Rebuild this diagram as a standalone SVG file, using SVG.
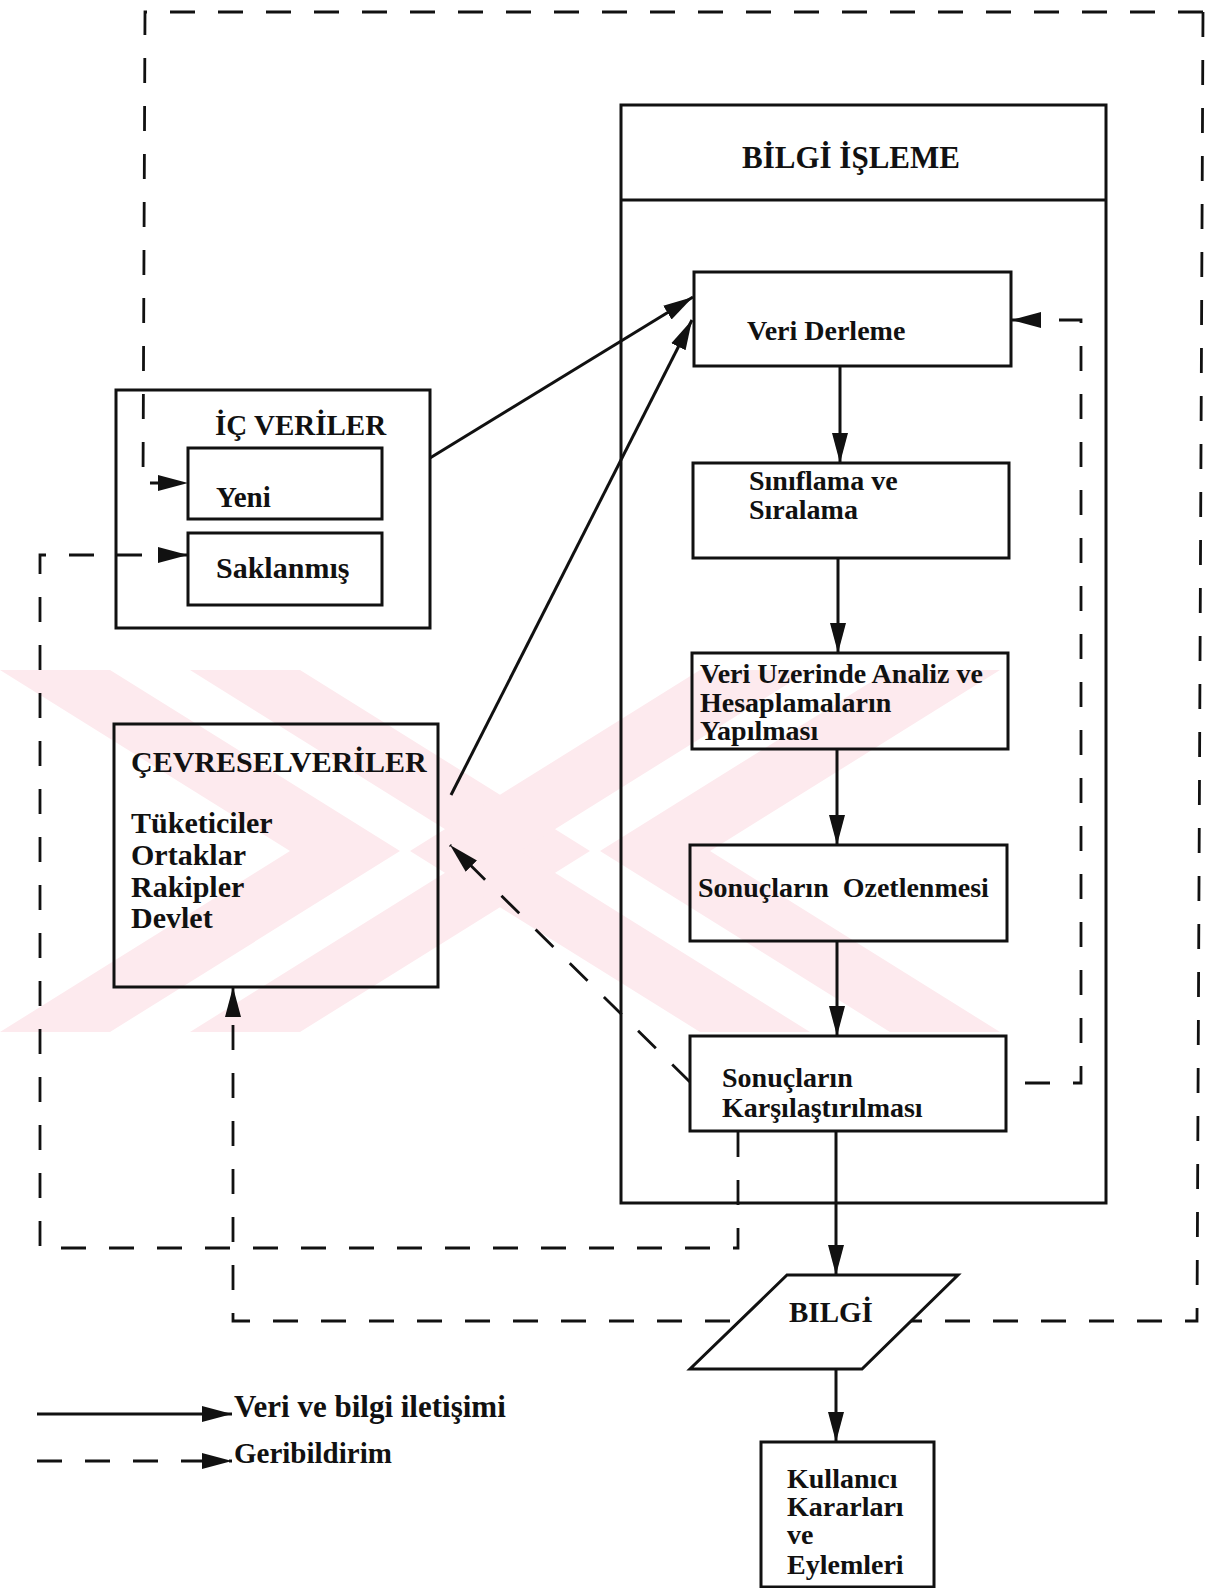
<svg xmlns="http://www.w3.org/2000/svg" width="1222" height="1588" viewBox="0 0 1222 1588">
<style>
.box{fill:none;stroke:#111;stroke-width:3}
.ln{fill:none;stroke:#111;stroke-width:3}
.dl{fill:none;stroke:#111;stroke-width:2.8;stroke-dasharray:25 23}
.t{font-family:"Liberation Serif","Times New Roman",serif;font-weight:bold;font-size:28px;fill:#111}
.wm{fill:#fdeaee}
</style>
<defs>
<marker id="ah" markerUnits="userSpaceOnUse" markerWidth="32" markerHeight="18" refX="30" refY="9" orient="auto">
<path d="M0,1 L30,9 L0,17 z" fill="#111"/>
</marker>
</defs>
<rect x="0" y="0" width="1222" height="1588" fill="#ffffff"/>
<g id="watermark">
<polygon class="wm" points="0,670 110,670 400,851 110,1032 0,1032 290,851"/>
<polygon class="wm" points="190,670 300,670 590,851 300,1032 190,1032 480,851"/>
<polygon class="wm" points="1000,670 890,670 600,851 890,1032 1000,1032 710,851"/>
<polygon class="wm" points="810,670 700,670 410,851 700,1032 810,1032 520,851"/>
</g>
<g id="connectors">
<path class="dl" d="M1203,12 L145,12 L143,483 L188,483" marker-end="url(#ah)"/>
<path class="dl" d="M1203,12 L1197,1321 L233,1321 L233,987" marker-end="url(#ah)"/>
<path class="dl" d="M738,1132 L738,1248 L40,1248 L40,555 L188,555" marker-end="url(#ah)"/>
<path class="dl" d="M1006,1083 L1081,1083 L1081,320 L1011,320" style="stroke-dashoffset:29" marker-end="url(#ah)"/>
<path class="dl" d="M690,1082 L450,845" marker-end="url(#ah)"/>
<path class="ln" d="M430,458 L693,297" marker-end="url(#ah)"/>
<path class="ln" d="M451,795 L692,320" marker-end="url(#ah)"/>
<path class="ln" d="M840,367 L840,463" marker-end="url(#ah)"/>
<path class="ln" d="M838,558 L838,653" marker-end="url(#ah)"/>
<path class="ln" d="M837,749 L837,845" marker-end="url(#ah)"/>
<path class="ln" d="M837,941 L837,1036" marker-end="url(#ah)"/>
<path class="ln" d="M836,1131 L836,1275" marker-end="url(#ah)"/>
<path class="ln" d="M836,1369 L836,1442" marker-end="url(#ah)"/>
</g>
<g id="bilgi-isleme">
<rect class="box" x="621" y="105" width="485" height="1098"/>
<line class="box" x1="621" y1="200" x2="1106" y2="200"/>
<text class="t" x="742" y="168" style="font-size:31px">BİLGİ İŞLEME</text>
</g>
<g id="veri-derleme">
<rect class="box" x="694" y="272" width="317" height="94"/>
<text class="t" x="747" y="340">Veri Derleme</text>
</g>
<g id="siniflama">
<rect class="box" x="693" y="463" width="316" height="95"/>
<text class="t" x="749" y="490">Sınıflama ve</text>
<text class="t" x="749" y="519">Sıralama</text>
</g>
<g id="analiz">
<rect class="box" x="692" y="653" width="316" height="96"/>
<text class="t" x="700" y="683">Veri Uzerinde Analiz ve</text>
<text class="t" x="700" y="712">Hesaplamaların</text>
<text class="t" x="700" y="740">Yapılması</text>
</g>
<g id="ozetleme">
<rect class="box" x="690" y="845" width="317" height="96"/>
<text class="t" x="698" y="897" xml:space="preserve">Sonuçların  Ozetlenmesi</text>
</g>
<g id="karsilastirma">
<rect class="box" x="690" y="1036" width="316" height="95"/>
<text class="t" x="722" y="1087">Sonuçların</text>
<text class="t" x="722" y="1117">Karşılaştırılması</text>
</g>
<g id="ic-veriler">
<rect class="box" x="116" y="390" width="314" height="238"/>
<text class="t" x="215" y="435" style="font-size:29px">İÇ VERİLER</text>
</g>
<g id="yeni">
<rect class="box" x="188" y="448" width="194" height="71"/>
<text class="t" x="216" y="507" style="font-size:29px">Yeni</text>
</g>
<g id="saklanmis">
<rect class="box" x="188" y="533" width="194" height="72"/>
<text class="t" x="216" y="578" style="font-size:30px">Saklanmış</text>
</g>
<g id="cevresel">
<rect class="box" x="114" y="724" width="324" height="263"/>
<text class="t" x="131" y="772" style="font-size:30px">ÇEVRESELVERİLER</text>
<text class="t" x="131" y="833" style="font-size:30px">Tüketiciler</text>
<text class="t" x="131" y="865" style="font-size:30px">Ortaklar</text>
<text class="t" x="131" y="897" style="font-size:30px">Rakipler</text>
<text class="t" x="131" y="928" style="font-size:30px">Devlet</text>
</g>
<g id="bilgi">
<polygon class="box" points="787,1275 958,1275 862,1369 690,1369" style="fill:#ffffff"/>
<text class="t" x="789" y="1322" style="font-size:29px">BILGİ</text>
</g>
<g id="kullanici">
<rect class="box" x="761" y="1442" width="173" height="145"/>
<text class="t" x="787" y="1488">Kullanıcı</text>
<text class="t" x="787" y="1516">Kararları</text>
<text class="t" x="787" y="1544">ve</text>
<text class="t" x="787" y="1574">Eylemleri</text>
</g>
<g id="legend">
<path class="ln" d="M37,1414 L232,1414" marker-end="url(#ah)"/>
<path class="dl" d="M37,1461 L232,1461" marker-end="url(#ah)"/>
<text class="t" x="234" y="1417" style="font-size:31px">Veri ve bilgi iletişimi</text>
<text class="t" x="234" y="1463" style="font-size:29px">Geribildirim</text>
</g>
</svg>
